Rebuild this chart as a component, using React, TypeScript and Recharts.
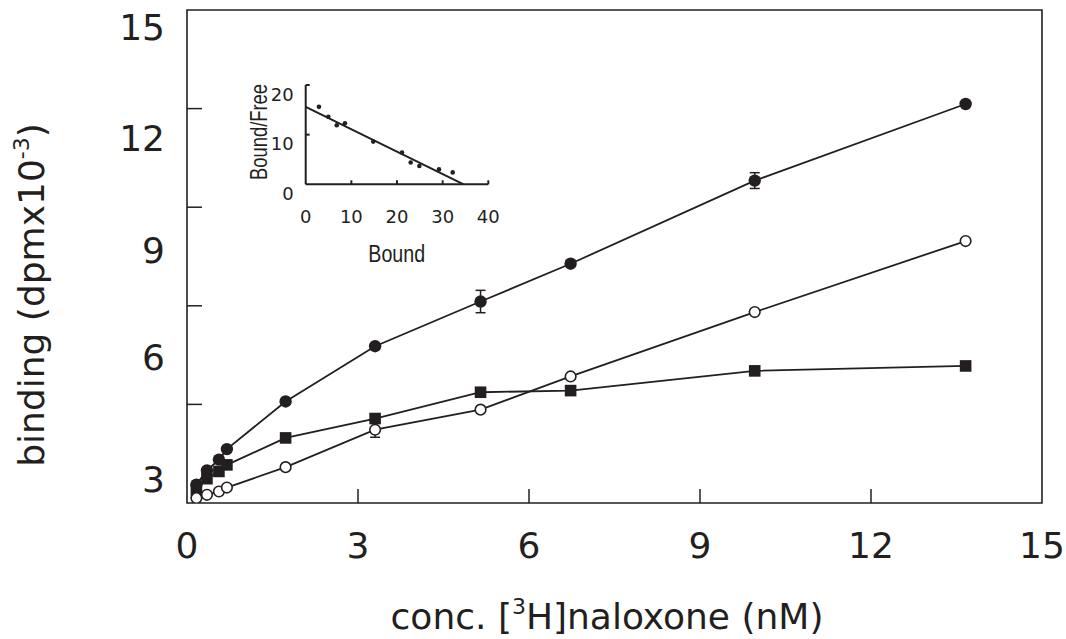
import {
  LineChart,
  Line,
  XAxis,
  YAxis,
  ErrorBar,
  ReferenceArea,
  Label,
  ComposedChart,
  Scatter,
} from 'recharts';

// main plot: binding vs concentration
const conc = [0.165, 0.35, 0.56, 0.7, 1.73, 3.3, 5.15, 6.73, 9.96, 13.66];
const filledBinding = [0.56, 0.99, 1.32, 1.64, 3.09, 4.77, 6.13, 7.28, 9.81, 12.14];
const filledErr = [0, 0, 0, 0, 0, 0, 0.34, 0, 0.24, 0];
const squareBinding = [0.4, 0.74, 0.96, 1.16, 1.98, 2.57, 3.37, 3.42, 4.02, 4.17];
const openBinding = [0.15, 0.25, 0.35, 0.47, 1.09, 2.23, 2.84, 3.85, 5.81, 7.97];
const openErr = [0, 0, 0, 0, 0, 0.23, 0, 0, 0, 0];
const xTicks = [0, 3, 6, 9, 12, 15];
const yTicks = [3, 6, 9, 12, 15];

// inset: Scatchard plot
const boundVals = [2.9, 4.95, 6.8, 8.6, 14.8, 21.1, 23.0, 24.9, 29.2, 32.2];
const ratioVals = [15.6, 13.6, 11.9, 12.3, 8.6, 6.4, 4.4, 3.7, 3.0, 2.4];
const fitBound = [0, 34.6];
const fitRatio = [15.6, 0];
const insetXTicks = [0, 10, 20, 30, 40];
const insetYTicks = [0, 10, 20];

const INK = '#231f20';
const FONT = '"DejaVu Sans", Verdana, sans-serif';
const NARROW = '"Liberation Sans", Arial, sans-serif';

// the y tick labels in the original sit below their tick marks
const yLabelDy: Record<number, number> = { 15: 30, 12: 42, 9: 56, 6: 64, 3: 88 };

const rows = conc.map((c, i) => ({
  conc: c,
  filled: filledBinding[i],
  filledErr: filledErr[i],
  square: squareBinding[i],
  open: openBinding[i],
  openErr: openErr[i],
}));

const scatRows = boundVals.map((b, i) => ({ b, r: ratioVals[i] }));
const fitRows = fitBound.map((b, i) => ({ b, r: fitRatio[i] }));

const XTick = ({ x, y, payload }: any) => {
  const v = payload.value;
  return (
    <g>
      {v > 0 && v < 15 && <line x1={x} x2={x} y1={y} y2={y - 14} stroke={INK} strokeWidth={1.5} />}
      <text x={x} y={y + 55} textAnchor="middle" fontSize={36} fontFamily={FONT} fill={INK}>
        {v}
      </text>
    </g>
  );
};

const YTick = ({ x, y, payload }: any) => {
  const v = payload.value;
  return (
    <g>
      {v < 15 && <line x1={x} x2={x + 15} y1={y} y2={y} stroke={INK} strokeWidth={1.5} />}
      <text x={x - 22} y={y + (yLabelDy[v] ?? 0)} textAnchor="end" fontSize={36} fontFamily={FONT} fill={INK}>
        {v}
      </text>
    </g>
  );
};

const InsetXTick = ({ x, y, payload }: any) => {
  const v = payload.value;
  return (
    <g>
      {v > 0 && <line x1={x} x2={x} y1={y} y2={y - 4} stroke={INK} strokeWidth={2} />}
      <text x={x} y={y + 39} textAnchor="middle" fontSize={18} fontFamily={FONT} fill={INK}>
        {v}
      </text>
    </g>
  );
};

const InsetYTick = ({ x, y, payload }: any) => {
  const v = payload.value;
  return (
    <g>
      {v > 0 && <line x1={x} x2={x + 4} y1={y} y2={y} stroke={INK} strokeWidth={2} />}
      <text x={x - 12} y={y + 15.5} textAnchor="end" fontSize={18} fontFamily={FONT} fill={INK}>
        {v}
      </text>
    </g>
  );
};

const FilledDot = (p: any) => <circle key={p.index} cx={p.cx} cy={p.cy} r={6.2} fill={INK} />;
const OpenDot = (p: any) => (
  <circle key={p.index} cx={p.cx} cy={p.cy} r={5.3} fill="#fff" stroke={INK} strokeWidth={1.6} />
);
const SquareDot = (p: any) => (
  <rect key={p.index} x={p.cx - 5.8} y={p.cy - 5.8} width={11.6} height={11.6} fill={INK} />
);

const XTitle = () => (
  <text x={607} y={629} textAnchor="middle" fontSize={36} fontFamily={FONT} fill={INK}>
    conc. [
    <tspan fontSize={22} dy={-15}>3</tspan>
    <tspan dy={15}>H]naloxone (nM)</tspan>
  </text>
);

const YTitle = () => (
  <text
    x={44}
    y={295}
    transform="rotate(-90, 44, 295)"
    textAnchor="middle"
    fontSize={36}
    fontFamily={FONT}
    fill={INK}
  >
    binding (dpmx10
    <tspan fontSize={22} dy={-15}>-3</tspan>
    <tspan dy={15}>)</tspan>
  </text>
);

// inset chart sits at (215, 70) on the page; its labels use a squeezed sans
function Inset() {
  return (
    <ComposedChart width={305} height={210} margin={{ top: 15, right: 31.7, left: 0, bottom: 0 }}>
      <XAxis
        type="number"
        dataKey="b"
        domain={[0, 40]}
        ticks={insetXTicks}
        height={95.7}
        axisLine={{ stroke: INK, strokeWidth: 2 }}
        tickLine={false}
        tickSize={0}
        tickMargin={0}
        tick={InsetXTick}
      >
        <Label
          content={() => (
            <text
              transform="translate(181.7, 191.7) scale(0.82, 1)"
              textAnchor="middle"
              fontSize={24}
              fontFamily={NARROW}
              fill={INK}
            >
              Bound
            </text>
          )}
        />
      </XAxis>
      <YAxis
        type="number"
        dataKey="r"
        domain={[0, 20]}
        ticks={insetYTicks}
        width={90.7}
        axisLine={{ stroke: INK, strokeWidth: 2 }}
        tickLine={false}
        tickSize={0}
        tickMargin={0}
        tick={InsetYTick}
      >
        <Label
          content={() => (
            <text
              transform="translate(52, 62) rotate(-90) scale(0.8, 1)"
              textAnchor="middle"
              fontSize={23}
              fontFamily={NARROW}
              fill={INK}
            >
              Bound/Free
            </text>
          )}
        />
      </YAxis>
      <Line
        data={fitRows}
        dataKey="r"
        stroke={INK}
        strokeWidth={2}
        dot={false}
        activeDot={false}
        isAnimationActive={false}
      />
      <Scatter
        data={scatRows}
        dataKey="r"
        isAnimationActive={false}
        shape={(p: any) => <circle cx={p.cx} cy={p.cy} r={2.3} fill={INK} />}
      />
    </ComposedChart>
  );
}

export default function App() {
  return (
    <div style={{ position: 'absolute', left: 0, top: 0, width: 1066, height: 639, background: '#fff' }}>
      <LineChart width={1066} height={639} data={rows} margin={{ top: 10, right: 24, left: 0, bottom: 0 }}>
        <XAxis
          type="number"
          dataKey="conc"
          domain={[0, 15]}
          ticks={xTicks}
          height={136}
          axisLine={false}
          tickLine={false}
          tickSize={0}
          tickMargin={0}
          tick={XTick}
          allowDataOverflow
        >
          <Label content={XTitle} />
        </XAxis>
        <YAxis
          type="number"
          domain={[0, 15]}
          ticks={yTicks}
          width={187}
          axisLine={false}
          tickLine={false}
          tickSize={0}
          tickMargin={0}
          tick={YTick}
          allowDataOverflow
        >
          <Label content={YTitle} />
        </YAxis>
        <ReferenceArea x1={0} x2={15} y1={0} y2={15} fill="none" stroke={INK} strokeWidth={1.6} fillOpacity={0} />
        <Line dataKey="square" stroke={INK} strokeWidth={1.8} dot={SquareDot} activeDot={false} isAnimationActive={false} />
        <Line dataKey="open" stroke={INK} strokeWidth={1.8} dot={OpenDot} activeDot={false} isAnimationActive={false}>
          <ErrorBar dataKey="openErr" width={5} stroke={INK} strokeWidth={1.5} direction="y" />
        </Line>
        <Line dataKey="filled" stroke={INK} strokeWidth={1.8} dot={FilledDot} activeDot={false} isAnimationActive={false}>
          <ErrorBar dataKey="filledErr" width={5} stroke={INK} strokeWidth={1.5} direction="y" />
        </Line>
      </LineChart>
      <div style={{ position: 'absolute', left: 215, top: 70 }}>
        <Inset />
      </div>
    </div>
  );
}
